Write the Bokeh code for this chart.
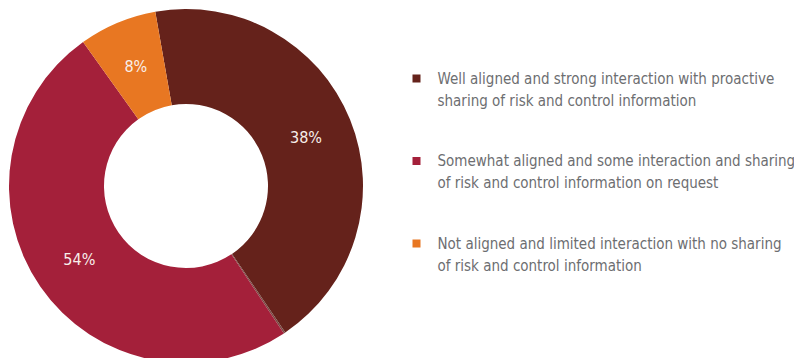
import math
from bokeh.plotting import figure
from bokeh.models import Range1d, ColumnDataSource
from bokeh.core.properties import value
from bokeh.embed import file_html
from bokeh.resources import INLINE

# ---- data (shares as drawn, clockwise from the top-left boundary) ----
slice_names = ["Well aligned", "divider", "Somewhat aligned", "Not aligned"]
slice_shares = [43.3, 0.15, 49.45, 7.1]
slice_colors = ["#65221b", "#7a4a44", "#a4203a", "#e87722"]
slice_labels = ["38%", "", "54%", "8%"]

legend_lines = [
    ["Well aligned and strong interaction with proactive",
     "sharing of risk and control information"],
    ["Somewhat aligned and some interaction and sharing",
     "of risk and control information on request"],
    ["Not aligned and limited interaction with no sharing",
     "of risk and control information"],
]
legend_colors = ["#65221b", "#a4203a", "#e87722"]

# ---- layout ----
W, H = 794, 358
CX, CY = 185.5, 185.5       # page pixel coords
R_OUT, R_IN = 177, 82
START_CW = -10.0            # degrees clockwise from top
FONT = "'DejaVu Sans Condensed', Roboto, sans-serif"

p = figure(width=W, height=H, output_backend="svg", toolbar_location=None,
           x_range=Range1d(0, W), y_range=Range1d(-H, 0),
           min_border=0, outline_line_color=None)
p.axis.visible = False
p.grid.visible = False
p.background_fill_color = "white"

starts, ends, lx, ly = [], [], [], []
acc = START_CW
for s in slice_shares:
    a0 = acc
    a1 = acc + s / 100.0 * 360.0
    starts.append(math.radians(90 - a0))
    ends.append(math.radians(90 - a1))
    mid = math.radians((a0 + a1) / 2)
    rm = (R_OUT + R_IN) / 2
    lx.append(CX + rm * math.sin(mid))
    ly.append(-(CY - rm * math.cos(mid)))
    acc = a1

src = ColumnDataSource(dict(start=starts, end=ends, color=slice_colors,
                            x=[CX] * len(starts), y=[-CY] * len(starts),
                            lx=lx, ly=ly, label=slice_labels))
p.annular_wedge(x="x", y="y", inner_radius=R_IN, outer_radius=R_OUT,
                start_angle="start", end_angle="end", direction="clock",
                fill_color="color", line_color=None, source=src)
p.text(x="lx", y="ly", text="label", source=src, text_color="#f8efea",
       text_font=value(FONT), text_font_size="16px", text_align="center",
       text_baseline="middle")

# legend
sq_x, tx_x, y0, gap, lh = 416, 437, 78, 82.5, 22
for i, (lines, col) in enumerate(zip(legend_lines, legend_colors)):
    yb = y0 + i * gap
    p.rect(x=[sq_x], y=[-yb], width=8, height=8, fill_color=col, line_color=None)
    p.text(x=[tx_x] * len(lines), y=[-(yb + j * lh) for j in range(len(lines))],
           text=lines, text_color="#6d6e71", text_font=value(FONT),
           text_font_size="15px", text_align="left", text_baseline="middle")

open("out.html", "w").write(file_html(p, INLINE))
